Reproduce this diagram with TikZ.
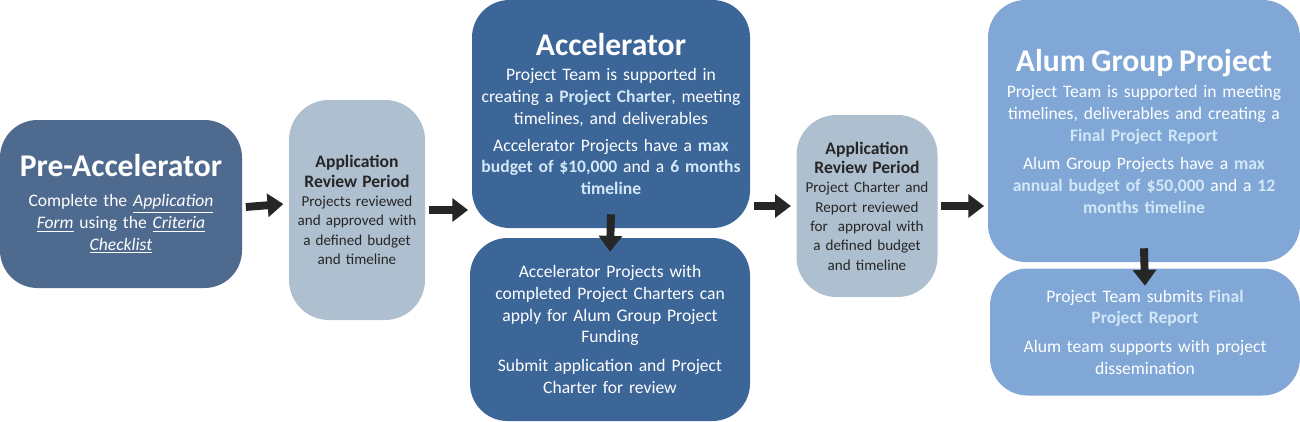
\documentclass[tikz,border=0pt]{standalone}
\usepackage{fontspec}
\setmainfont{Carlito}
\usetikzlibrary{arrows.meta}
\definecolor{darkslate}{HTML}{4F6A8F}
\definecolor{darkblue}{HTML}{3C6598}
\definecolor{reviewgray}{HTML}{AEBFCF}
\definecolor{alumblue}{HTML}{80A7D6}
\definecolor{hilite}{HTML}{D2E8F7}
\tikzstyle{stage} = [rectangle, rounded corners=0.75cm, text centered, align=center,
    text=white, inner sep=0pt, font=\fontsize{10}{12.3}\selectfont]
\tikzstyle{review} = [stage, rounded corners=0.8cm, fill=reviewgray, text=black!85,
    font=\fontsize{8.6}{11}\selectfont]
\tikzstyle{arrow} = [line width=4.5pt, black!85, -{Triangle[length=9pt,width=13pt]}]
\newcommand{\hl}[1]{\textbf{\color{hilite}#1}}
\newcommand{\ttl}[1]{{\fontsize{18}{21}\selectfont\bfseries #1}}

\begin{document}
\begin{tikzpicture}
\useasboundingbox (0,0) rectangle (26,8.42);

% Nodes
\node (pre) [stage, fill=darkslate, minimum width=4.84cm, minimum height=3.36cm,
    text width=4.7cm] at (2.42,4.34)
    {\ttl{Pre-Accelerator}\\[5pt]
     Complete the \underline{\textit{Application}}\\
     \underline{\textit{Form}} using the \underline{\textit{Criteria}}\\
     \underline{\textit{Checklist}}};
\node (rev1) [review, minimum width=2.72cm, minimum height=4.4cm,
    text width=2.7cm] at (7.14,4.22)
    {{\fontsize{10}{12.5}\selectfont\bfseries Application\\ Review Period}\\
     Projects reviewed\\ and approved with\\ a defined budget\\ and timeline};
\node (acc) [stage, fill=darkblue, minimum width=5.56cm, minimum height=4.56cm,
    text width=5.56cm] at (12.22,6.14)
    {\ttl{Accelerator}\\[2pt]
     Project Team is supported in\\
     creating a \hl{Project Charter}, meeting\\
     timelines, and deliverables\\[3pt]
     Accelerator Projects have a \hl{max}\\
     \hl{budget of \$10,000} and a \hl{6 months}\\
     \hl{timeline}};
\node (accl) [stage, fill=darkblue, minimum width=5.6cm, minimum height=3.66cm,
    text width=5.6cm] at (12.2,1.83)
    {Accelerator Projects with\\
     completed Project Charters can\\
     apply for Alum Group Project\\
     Funding\\[4pt]
     Submit application and Project\\
     Charter for review};
\node (rev2) [review, minimum width=2.82cm, minimum height=3.64cm,
    text width=2.82cm] at (17.34,4.3)
    {{\fontsize{10}{12.5}\selectfont\bfseries Application\\ Review Period}\\
     Project Charter and\\ Report reviewed\\ for\ \ approval with\\
     a defined budget\\ and timeline};
\node (alum) [stage, fill=alumblue, minimum width=6.24cm, minimum height=5.24cm,
    text width=6.24cm] at (22.88,5.8)
    {\ttl{Alum Group Project}\\[3pt]
     Project Team is supported in meeting\\
     timelines, deliverables and creating a\\
     \hl{Final Project Report}\\[4pt]
     Alum Group Projects have a \hl{max}\\
     \hl{annual budget of \$50,000} and a \hl{12}\\
     \hl{months timeline}};
\node (aluml) [stage, fill=alumblue, minimum width=6.2cm, minimum height=2.54cm,
    text width=6.2cm] at (22.9,1.78)
    {Project Team submits \hl{Final}\\
     \hl{Project Report}\\[4pt]
     Alum team supports with project\\
     dissemination};

% Arrows
\draw [arrow] ([xshift=2pt,yshift=-0.06cm]pre.east) -- ([xshift=-3pt]rev1.west |- pre.east) ;
\draw [arrow] ([xshift=2pt]rev1.east) -- ([xshift=-2pt]rev1.east -| acc.west);
\draw [arrow] ([yshift=8pt]acc.south) -- ([yshift=-8pt]accl.north);
\draw [arrow] ([xshift=2pt]accl.east |- rev2.west) -- ([xshift=-3pt]rev2.west);
\draw [arrow] ([xshift=2pt]rev2.east) -- ([xshift=-2pt]rev2.east -| alum.west);
\draw [arrow] ([yshift=8pt]alum.south) -- ([yshift=-10pt]aluml.north);

\end{tikzpicture}
\end{document}
